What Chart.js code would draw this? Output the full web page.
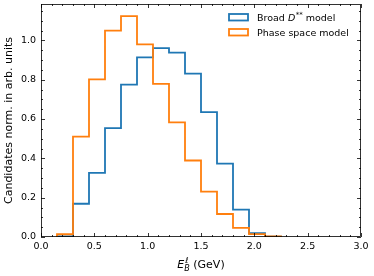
<!DOCTYPE html>
<html lang="en">
<head>
<meta charset="UTF-8">
<title>E_B histogram</title>
<script src="https://cdn.jsdelivr.net/npm/chart.js"></script>
<style>
  html, body { margin: 0; padding: 0; background: #fff; }
  #wrap { width: 374px; height: 276px; }
</style>
</head>
<body>
<div id="wrap"><canvas id="chart" width="374" height="276"></canvas></div>
<script>
// bin edges (GeV) and normalised contents
const binEdges = [0.15, 0.30, 0.45, 0.60, 0.75, 0.90, 1.05, 1.20, 1.35, 1.50, 1.65, 1.80, 1.95, 2.10, 2.25];
const broadValues = [0.003, 0.169, 0.326, 0.554, 0.775, 0.914, 0.961, 0.938, 0.831, 0.635, 0.373, 0.139, 0.020, 0.002];
const phaseValues = [0.014, 0.510, 0.802, 1.050, 1.123, 0.980, 0.779, 0.583, 0.389, 0.231, 0.117, 0.046, 0.015, 0.003];
const xTicks = [0.0, 0.5, 1.0, 1.5, 2.0, 2.5, 3.0];
const yTicks = [0.0, 0.2, 0.4, 0.6, 0.8, 1.0];
const xRange = [0, 3];
const yRange = [0, 1.185];

const FONT = '"DejaVu Sans", sans-serif';
const BLUE = '#1f77b4';
const ORANGE = '#ff7f0e';

// histogram outline: start at 0, step through each bin, drop back to 0
function stepPoints(vals) {
  const pts = [{ x: binEdges[0], y: 0 }];
  vals.forEach((v, i) => pts.push({ x: binEdges[i], y: v }));
  pts.push({ x: binEdges[binEdges.length - 1], y: 0 });
  return pts;
}

// inward ticks on all four sides, frame, axis titles, legend
const decorations = {
  id: 'decorations',
  afterDraw(chart) {
    const ctx = chart.ctx;
    const a = chart.chartArea;
    const xs = chart.scales.x, ys = chart.scales.y;
    ctx.save();
    ctx.strokeStyle = '#000';
    ctx.lineWidth = 0.8;

    function tick(px, len, vertical) {
      ctx.beginPath();
      if (vertical) {
        ctx.moveTo(px, a.bottom); ctx.lineTo(px, a.bottom - len);
        ctx.moveTo(px, a.top); ctx.lineTo(px, a.top + len);
      } else {
        ctx.moveTo(a.left, px); ctx.lineTo(a.left + len, px);
        ctx.moveTo(a.right, px); ctx.lineTo(a.right - len, px);
      }
      ctx.stroke();
    }
    for (let i = 0; i <= 30; i++) {
      const px = Math.round(xs.getPixelForValue(i / 10)) + 0.5;
      tick(px, i % 5 === 0 ? 4 : 2, true);
    }
    for (let i = 0; i <= 23; i++) {
      const py = Math.round(ys.getPixelForValue(i * 0.05)) + 0.5;
      tick(py, i % 4 === 0 ? 4 : 2, false);
    }
    ctx.strokeRect(a.left + 0.5, a.top + 0.5, a.right - a.left - 1, a.bottom - a.top - 1);

    // y title
    ctx.fillStyle = '#000';
    ctx.font = '11px ' + FONT;
    ctx.textAlign = 'center';
    ctx.textBaseline = 'middle';
    ctx.translate(9, (a.top + a.bottom) / 2);
    ctx.rotate(-Math.PI / 2);
    ctx.fillText('Candidates norm. in arb. units', 0, 0);
    ctx.setTransform(1, 0, 0, 1, 0, 0);

    // x title: E_B^l (GeV)
    ctx.textAlign = 'left';
    ctx.textBaseline = 'alphabetic';
    const fE = 'italic 11px ' + FONT, fS = 'italic 8px ' + FONT, fG = '11px ' + FONT;
    ctx.font = fE; const wE = ctx.measureText('E').width;
    ctx.font = fS; const wB = ctx.measureText('B').width, wL = ctx.measureText('\u2113').width;
    ctx.font = fG; const wG = ctx.measureText(' (GeV)').width;
    const total = wE + Math.max(wB, wL) + wG;
    let x = (a.left + a.right) / 2 - total / 2;
    const base = 268;
    ctx.font = fE; ctx.fillText('E', x, base); x += wE;
    ctx.font = fS; ctx.fillText('B', x, base + 3); ctx.fillText('\u2113', x + 1, base - 5);
    x += Math.max(wB, wL);
    ctx.font = fG; ctx.fillText(' (GeV)', x, base);

    // legend
    const items = [
      { color: BLUE, y: 17, pre: 'Broad ', it: 'D', sup: '**', post: ' model' },
      { color: ORANGE, y: 32, pre: 'Phase space model' }
    ];
    ctx.textBaseline = 'alphabetic';
    items.forEach(it => {
      ctx.strokeStyle = it.color;
      ctx.lineWidth = 1.8;
      ctx.strokeRect(229, it.y - 3, 19, 6.5);
      ctx.fillStyle = '#000';
      const bl = it.y + 3.5;
      let lx = 257;
      ctx.font = '9.5px ' + FONT;
      ctx.fillText(it.pre, lx, bl);
      lx += ctx.measureText(it.pre).width;
      if (it.it) {
        ctx.font = 'italic 9.5px ' + FONT;
        ctx.fillText(it.it, lx, bl);
        lx += ctx.measureText(it.it).width;
        ctx.font = '7px ' + FONT;
        ctx.fillText(it.sup, lx + 0.5, bl - 4);
        lx += ctx.measureText(it.sup).width + 0.5;
        ctx.font = '9.5px ' + FONT;
        ctx.fillText(it.post, lx, bl);
      }
    });
    ctx.restore();
  }
};

new Chart(document.getElementById('chart'), {
  type: 'line',
  data: {
    datasets: [
      {
        label: 'Broad D** model',
        data: stepPoints(broadValues),
        borderColor: BLUE,
        borderWidth: 1.8,
        stepped: 'before',
        pointRadius: 0,
        fill: false,
        order: 2
      },
      {
        label: 'Phase space model',
        data: stepPoints(phaseValues),
        borderColor: ORANGE,
        borderWidth: 1.8,
        stepped: 'before',
        pointRadius: 0,
        fill: false,
        order: 1
      }
    ]
  },
  options: {
    responsive: false,
    animation: false,
    events: [],
    layout: { padding: { left: 0, right: 13, top: 4, bottom: 0 } },
    plugins: { legend: { display: false }, tooltip: { enabled: false } },
    scales: {
      x: {
        type: 'linear',
        min: xRange[0],
        max: xRange[1],
        grid: { display: false, drawTicks: false },
        border: { display: false },
        afterBuildTicks: s => { s.ticks = xTicks.map(v => ({ value: v })); },
        afterFit: s => { s.height = 39; s.paddingLeft = 0; s.paddingRight = 0; },
        ticks: {
          padding: 4,
          maxRotation: 0,
          color: '#000',
          font: { family: FONT, size: 9.5 },
          callback: v => Number(v).toFixed(1)
        }
      },
      y: {
        min: yRange[0],
        max: yRange[1],
        grid: { display: false, drawTicks: false },
        border: { display: false },
        afterBuildTicks: s => { s.ticks = yTicks.map(v => ({ value: v })); },
        afterFit: s => { s.width = 41; s.paddingTop = 0; s.paddingBottom = 0; },
        ticks: {
          padding: 5,
          color: '#000',
          font: { family: FONT, size: 9.5 },
          callback: v => Number(v).toFixed(1)
        }
      }
    }
  },
  plugins: [decorations]
});
</script>
</body>
</html>
